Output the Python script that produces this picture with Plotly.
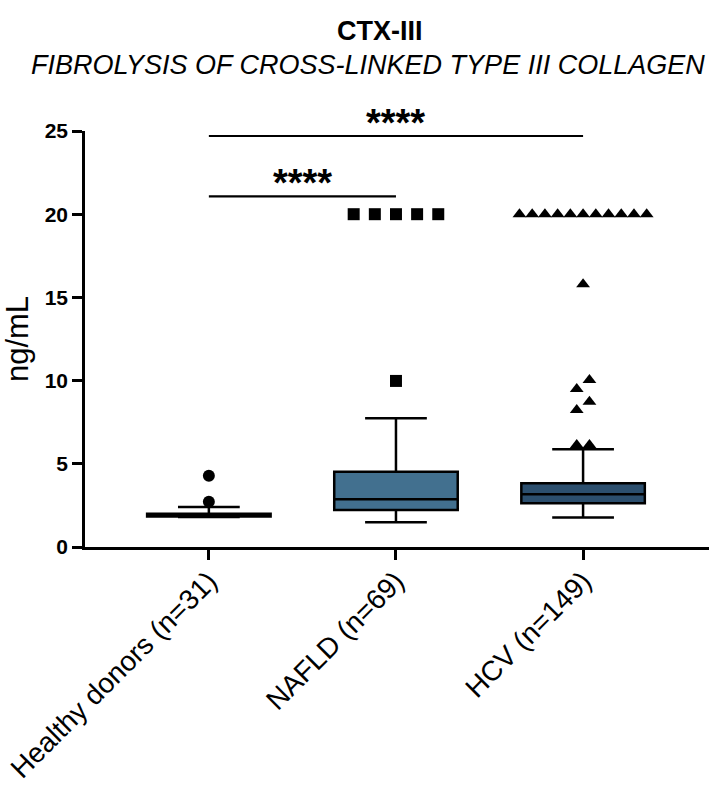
import plotly.graph_objects as go

# groups and box statistics (ng/mL)
groups = ["Healthy donors (n=31)", "NAFLD (n=69)", "HCV (n=149)"]
q1 = [1.83, 2.22, 2.63]
median = [1.9, 2.87, 3.17]
q3 = [2.0, 4.52, 3.83]
lower = [1.8, 1.48, 1.78]
upper = [2.4, 7.73, 5.87]

# outlying points per group
out_healthy = [2.72, 4.28]
out_nafld = [9.98, 20, 20, 20, 20, 20]
out_hcv = [6.13, 6.13, 8.23, 8.73, 9.5, 10.04, 15.79,
           20, 20, 20, 20, 20, 20, 20, 20, 20, 20, 20]

# significance brackets: (from group, to group, height), label
brackets = [(0, 2, 24.7), (0, 1, 21.07)]
bracket_text = ["****", "****"]

fills = ["#000000", "#42708F", "#2C4F6E"]
symbols = ["circle", "square", "triangle-up"]
steps = [0.07, 0.113, 0.068]

FONT = "Arial, Liberation Sans, sans-serif"
YMAX = 25


def spread(values, center, step, tol=0.6):
    # put close values side by side like a prism scatter
    vals = sorted(values)
    clusters = [[vals[0]]]
    for v in vals[1:]:
        if v - clusters[-1][-1] < tol:
            clusters[-1].append(v)
        else:
            clusters.append([v])
    xs, ys = [], []
    for c in clusters:
        n = len(c)
        for k, v in enumerate(c):
            xs.append(center + (k - (n - 1) / 2) * step)
            ys.append(v)
    return xs, ys


fig = go.Figure()

for i, g in enumerate(groups):
    fig.add_trace(go.Box(
        x=[i], q1=[q1[i]], median=[median[i]], q3=[q3[i]],
        lowerfence=[lower[i]], upperfence=[upper[i]],
        boxpoints=False, width=0.66, whiskerwidth=0.5,
        fillcolor=fills[i], line=dict(color="black", width=2.5),
        hoverinfo="skip", showlegend=False,
    ))

for i, pts in enumerate([out_healthy, out_nafld, out_hcv]):
    xs, ys = spread(pts, i, steps[i])
    fig.add_trace(go.Scatter(
        x=xs, y=ys, mode="markers",
        marker=dict(symbol=symbols[i], size=12, color="black"),
        showlegend=False, cliponaxis=False,
    ))

for (a, b, h), txt in zip(brackets, bracket_text):
    fig.add_shape(type="line", x0=a, x1=b, y0=h, y1=h,
                  line=dict(color="black", width=2.2))
    # paper coords so the top label is not hidden above the axis range
    fig.add_annotation(x=(a + b) / 2, y=(h - 0.6) / YMAX, yref="paper",
                       text="<b>" + txt + "</b>", showarrow=False,
                       yanchor="bottom",
                       font=dict(size=38, color="black", family=FONT))

fig.add_annotation(x=0.473, y=1.281, xref="paper", yref="paper",
                   text="<b>CTX-III</b>", showarrow=False,
                   font=dict(size=27, color="black", family=FONT))
fig.add_annotation(x=0.454, y=1.2, xref="paper", yref="paper",
                   text="<i>FIBROLYSIS OF CROSS-LINKED TYPE III COLLAGEN</i>",
                   showarrow=False,
                   font=dict(size=27, color="black", family=FONT))

fig.update_layout(
    width=709, height=787,
    margin=dict(l=85, r=0, t=131, b=240, autoexpand=False),
    paper_bgcolor="white", plot_bgcolor="white",
    font=dict(family=FONT, color="black"),
)
fig.update_xaxes(
    range=[-0.662, 2.673], tickvals=[0, 1, 2], ticktext=groups,
    tickangle=-45, tickfont=dict(size=28), automargin=False,
    ticklabeloverflow="allow", ticklabelstandoff=-6,
    showline=True, linecolor="black", linewidth=2.5,
    ticks="outside", ticklen=10, tickwidth=2.5, tickcolor="black",
    showgrid=False, zeroline=False,
)
fig.update_yaxes(
    range=[0, YMAX], tickvals=[0, 5, 10, 15, 20, 25],
    tickfont=dict(size=21, weight="bold"), automargin=False,
    showline=True, linecolor="black", linewidth=2.5,
    ticks="outside", ticklen=10, tickwidth=2.5, tickcolor="black",
    showgrid=False, zeroline=False,
    title=dict(text="ng/mL", font=dict(size=31), standoff=12),
)

# drop the default body margin so the figure sits at the window corner
fig.write_html("out.html", config={"displayModeBar": False},
               post_script="document.body.style.margin='0';")
